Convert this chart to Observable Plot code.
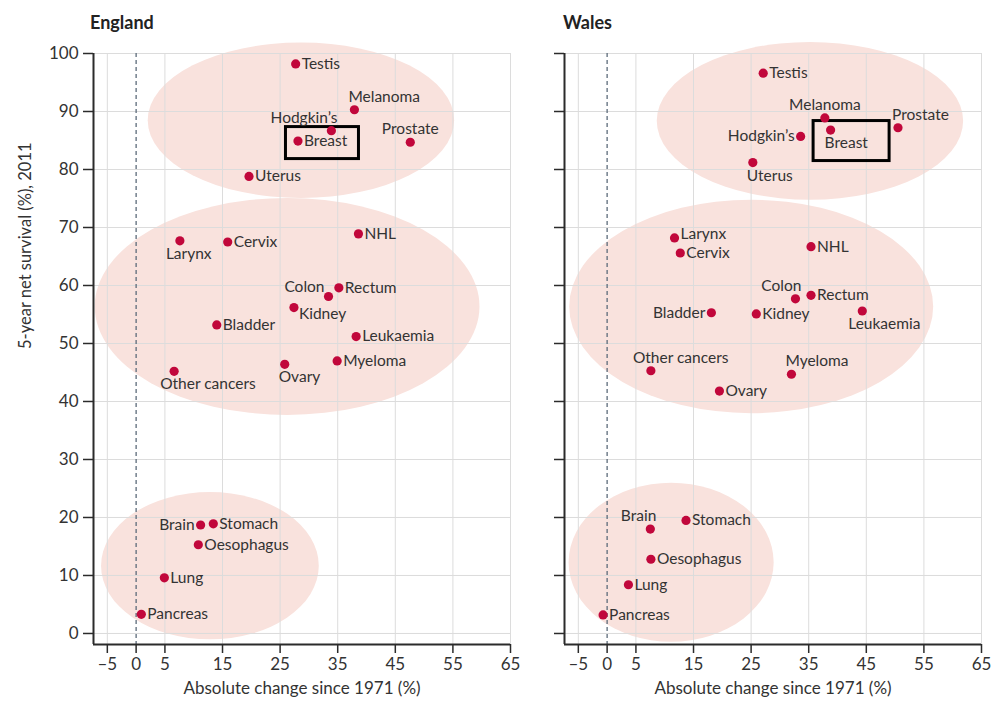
<!DOCTYPE html>
<html><head><meta charset="utf-8">
<script src="https://cdn.jsdelivr.net/npm/d3@7"></script>
<script src="https://cdn.jsdelivr.net/npm/@observablehq/plot@0.6"></script>
<style>
body{margin:0;background:#fff;font-family:Lato,sans-serif;}
#wrap{position:relative;width:992px;height:702px;overflow:hidden;}
.title{position:absolute;top:13px;font-weight:700;font-size:18px;line-height:18px;color:#222;}
.panel{position:absolute;top:40px;}
</style></head><body>
<div id="wrap">
<div class="title" style="left:90px">England</div>
<div class="title" style="left:563px">Wales</div>
<div class="panel" id="eng" style="left:0"></div>
<div class="panel" id="wal" style="left:540px"></div>
</div>
<script>
const cancers = ["Testis","Melanoma","Hodgkin’s","Breast","Prostate","Uterus","NHL","Larynx","Cervix","Colon","Rectum","Kidney","Bladder","Leukaemia","Myeloma","Ovary","Other cancers","Brain","Stomach","Oesophagus","Lung","Pancreas"];

const englandChange   = [27.7, 37.9, 33.9, 28.1, 47.6, 19.6, 38.6, 7.6, 15.9, 33.4, 35.2, 27.4, 14.0, 38.2, 34.9, 25.8, 6.6, 11.2, 13.4, 10.8, 4.9, 0.9];
const englandSurvival = [98.2, 90.3, 86.7, 84.9, 84.7, 78.8, 68.9, 67.7, 67.5, 58.1, 59.6, 56.2, 53.2, 51.2, 47.0, 46.4, 45.2, 18.7, 18.9, 15.3, 9.6, 3.3];
const englandLabelPos = ["r","ts","te","r","t","r","r","bl","r","lt","r","rb","r","r","r","bs","bl","l","r","r","r","r"];

const walesChange   = [27.1, 37.8, 33.6, 38.8, 50.5, 25.3, 35.4, 11.7, 12.7, 32.7, 35.4, 25.9, 18.1, 44.3, 32.0, 19.5, 7.6, 7.5, 13.7, 7.6, 3.7, -0.7];
const walesSurvival = [96.6, 88.9, 85.7, 86.8, 87.2, 81.2, 66.7, 68.2, 65.6, 57.7, 58.3, 55.1, 55.3, 55.6, 44.7, 41.8, 45.3, 18.0, 19.5, 12.8, 8.4, 3.2];
const walesLabelPos = ["r","t","l","bs","ts","bs","r","ru","r","te","r","r","l","bl","ts","r","tl","te","r","r","r","r"];

// survival groups: [centre change, centre survival, half-width, half-height]
const englandGroups = [[28.7, 88.4, 26.6, 13.4], [26.3, 56.3, 33.4, 18.7], [12.9, 11.6, 18.9, 12.7]];
const walesGroups   = [[35.3, 88.3, 26.6, 13.6], [25.1, 56.3, 31.6, 18.4], [11.2, 12.2, 17.8, 13.7]];

const highlighted = "Breast";
const xTicks = [-5, 0, 5, 15, 25, 35, 45, 55, 65];
const xGrid = [-5, 5, 15, 25, 35, 45, 55, 65];
const yTicks = [0, 10, 20, 30, 40, 50, 60, 70, 80, 90, 100];
const xDomain = [-7.4, 65];
const yDomain = [-1.9, 100];
const xLabel = "Absolute change since 1971 (%)";
const yLabel = "5-year net survival (%), 2011";

const placements = {
  r:  {textAnchor: "start",  dx: 6,   dy: 0},
  ru: {textAnchor: "start",  dx: 6,   dy: -4},
  rb: {textAnchor: "start",  dx: 5,   dy: 6},
  l:  {textAnchor: "end",    dx: -6,  dy: 0},
  lt: {textAnchor: "end",    dx: -4,  dy: -9},
  t:  {textAnchor: "middle", dx: 0,   dy: -13},
  ts: {textAnchor: "start",  dx: -6,  dy: -13},
  tl: {textAnchor: "start",  dx: -18, dy: -13},
  te: {textAnchor: "end",    dx: 6,   dy: -13},
  b:  {textAnchor: "middle", dx: 0,   dy: 13},
  bs: {textAnchor: "start",  dx: -6,  dy: 13},
  bl: {textAnchor: "start",  dx: -14, dy: 13}
};

function ellipseMark(groups) {
  return (index, scales) => {
    const g = d3.create("svg:g");
    for (const [cx, cy, rx, ry] of groups) {
      const X = scales.x(cx), Y = scales.y(cy);
      g.append("ellipse")
        .attr("cx", X).attr("cy", Y)
        .attr("rx", Math.abs(scales.x(cx + rx) - X))
        .attr("ry", Math.abs(scales.y(cy + ry) - Y))
        .attr("fill", "#f9e2dd");
    }
    return g.node();
  };
}

function panel({change, survival, labelPos, groups, width, marginLeft, marginRight, showYLabels, box}) {
  const rows = cancers.map((name, i) => ({name, x: change[i], y: survival[i], pos: labelPos[i]}));
  const marks = [
    ellipseMark(groups),
    Plot.ruleX(xGrid, {stroke: "#dcdcdc", strokeWidth: 1}),
    Plot.ruleY(yTicks, {stroke: "#dcdcdc", strokeWidth: 1}),
    Plot.ruleX([0], {stroke: "#5d6b7a", strokeWidth: 1.3, strokeDasharray: "4,3"}),
    Plot.ruleX([xDomain[0]], {stroke: "#2b2b2b", strokeWidth: 2}),
    Plot.ruleY([yDomain[0]], {stroke: "#2b2b2b", strokeWidth: 2}),
    Plot.axisY({ticks: yTicks, tickSize: 10, tickPadding: 5, fontSize: 17, stroke: "#2b2b2b", strokeWidth: 1.5, fill: "#333", label: null,
      tickFormat: showYLabels ? (d => d) : (() => "")}),
    Plot.axisX({ticks: xTicks, tickSize: 9, tickPadding: 4, fontSize: 17, stroke: "#2b2b2b", strokeWidth: 1.5, fill: "#333", label: null,
      tickFormat: d => d < 0 ? "–" + Math.abs(d) : String(d)}),
    Plot.text([xLabel], {frameAnchor: "bottom", dy: 49, fontSize: 17, fill: "#333"}),
    Plot.rect(rows.filter(d => d.name === highlighted), {x1: "x", x2: "x", y1: "y", y2: "y",
      fill: "none", stroke: "#000", strokeWidth: 3, ...box}),
    Plot.dot(rows, {x: "x", y: "y", r: 4.6, fill: "#c1073b", stroke: "none"}),
    ...Object.entries(placements).map(([k, p]) => Plot.text(rows.filter(d => d.pos === k),
      {x: "x", y: "y", text: "name", ...p, fontSize: 15.5, fill: "#333"}))
  ];
  if (showYLabels) marks.push(Plot.text([yLabel], {frameAnchor: "left", rotate: -90, dx: -68, fontSize: 16.5, fill: "#333"}));
  return Plot.plot({
    width, height: 662, marginTop: 13, marginBottom: 58, marginLeft, marginRight,
    style: {fontFamily: "Lato, sans-serif", fontSize: "15px", background: "transparent", overflow: "visible"},
    x: {domain: xDomain},
    y: {domain: yDomain},
    marks
  });
}

document.getElementById("eng").append(panel({
  change: englandChange, survival: englandSurvival, labelPos: englandLabelPos, groups: englandGroups,
  width: 540, marginLeft: 93, marginRight: 30, showYLabels: true,
  box: {insetLeft: -12, insetRight: -61, insetTop: -14, insetBottom: -18}
}));
document.getElementById("wal").append(panel({
  change: walesChange, survival: walesSurvival, labelPos: walesLabelPos, groups: walesGroups,
  width: 452, marginLeft: 24, marginRight: 11, showYLabels: false,
  box: {insetLeft: -17, insetRight: -59, insetTop: -9, insetBottom: -31}
}));
</script>
</body></html>
